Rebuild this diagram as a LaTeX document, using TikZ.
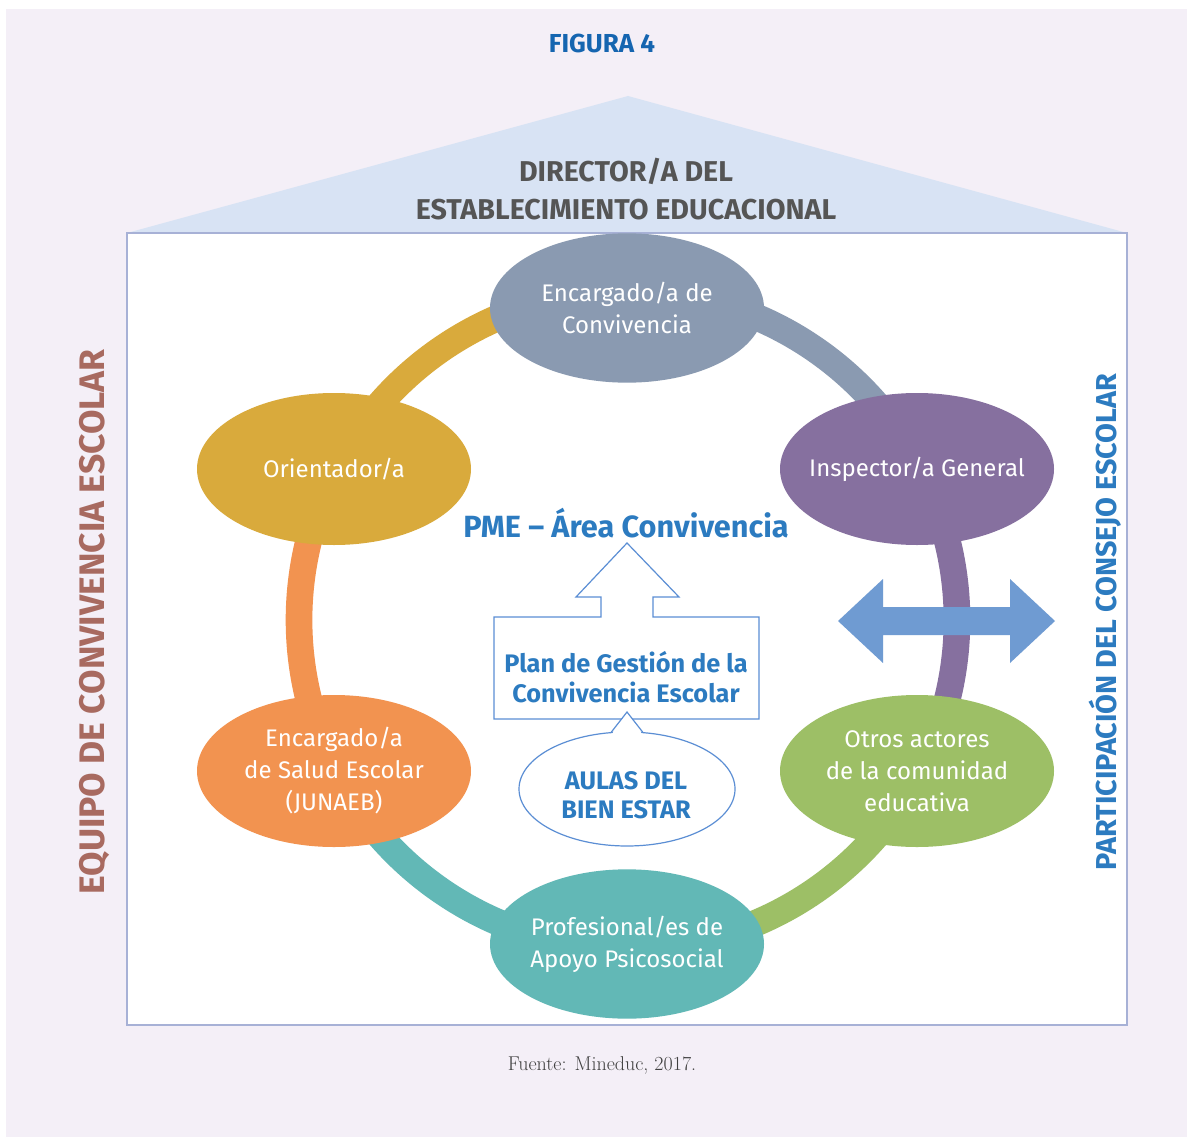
\documentclass[tikz,border=0pt]{standalone}
\usepackage{fontspec}
\setmainfont{Fira Sans}
\newfontfamily\lmserif{Latin Modern Roman}
\usetikzlibrary{shapes.geometric}
\definecolor{lav}{HTML}{F4EFF7}
\definecolor{roof}{HTML}{D8E3F4}
\definecolor{boxline}{HTML}{A7B1D6}
\definecolor{cgold}{HTML}{D9AA3C}
\definecolor{cgray}{HTML}{8A9AB1}
\definecolor{cpurple}{HTML}{86709F}
\definecolor{cgreen}{HTML}{9DBF66}
\definecolor{cteal}{HTML}{62B8B6}
\definecolor{corange}{HTML}{F29350}
\definecolor{tblue}{HTML}{2C7BC0}
\definecolor{figblue}{HTML}{1565B0}
\definecolor{oblue}{HTML}{5B8ED4}
\definecolor{arrblue}{HTML}{6F9BD2}
\definecolor{tgray}{HTML}{555555}
\definecolor{tbrown}{HTML}{A86A60}
\tikzset{
  ell/.style={ellipse, inner sep=0pt, minimum width=205.5pt, minimum height=114pt},
  etext/.style={text=white, align=center, font=\fontsize{18}{24}\selectfont},
  ringseg/.style={line width=20pt},
  btext/.style={text=tblue, align=center, font=\bfseries\fontsize{19}{22}\selectfont},
}
\begin{document}
\begin{tikzpicture}[x=0.75pt,y=-0.75pt]
\useasboundingbox (0,0) rectangle (1187,1137);
\fill[white] (0,0) rectangle (1187,1137);
\fill[lav] (6,9) rectangle (1187,1137);
% roof
\fill[roof] (127,233) -- (628,96) -- (1127,233) -- cycle;
% house box
\draw[boxline, fill=white, line width=1.2pt] (127,233) rectangle (1127,1025);
% ring
\coordinate (rc) at (628,620);
\draw[ringseg, cgold]   ([shift={(rc)}]207.2:329) arc[start angle=207.2, end angle=270, radius=329];
\draw[ringseg, cgray]   ([shift={(rc)}]270:329) arc[start angle=270, end angle=332.8, radius=329];
\draw[ringseg, cpurple] ([shift={(rc)}]-27.2:329) arc[start angle=-27.2, end angle=27.2, radius=329];
\draw[ringseg, cgreen]  ([shift={(rc)}]27.2:329) arc[start angle=27.2, end angle=90, radius=329];
\draw[ringseg, cteal]   ([shift={(rc)}]90:329) arc[start angle=90, end angle=152.8, radius=329];
\draw[ringseg, corange] ([shift={(rc)}]152.8:329) arc[start angle=152.8, end angle=207.2, radius=329];
% ellipses
\node[ell, fill=cgray, minimum height=112pt] (top) at (627,308) {};
\node[etext] at (top) {Encargado/a de\\Convivencia};
\node[ell, fill=cgold] (orient) at (334,469) {};
\node[etext] at (orient) {Orientador/a};
\node[ell, fill=cpurple] (insp) at (917,469) {};
\node[etext] at (insp) {Inspector/a General};
\node[ell, fill=corange] (salud) at (334,771) {};
\node[etext] at (salud) {Encargado/a\\de Salud Escolar\\(JUNAEB)};
\node[ell, fill=cgreen] (otros) at (917,771) {};
\node[etext] at (otros) {Otros actores\\de la comunidad\\educativa};
\node[ell, fill=cteal, minimum height=112pt] (prof) at (627,944) {};
\node[etext] at (prof) {Profesional/es de\\Apoyo Psicosocial};
% double arrow
\fill[arrblue] (838,621) -- (883,579) -- (883,607) -- (1010,607) -- (1010,579) -- (1055,621)
  -- (1010,663) -- (1010,635) -- (883,635) -- (883,663) -- cycle;
% PME
\node[text=tblue, font=\bfseries\fontsize{23}{26}\selectfont] (pme) at (626,523) {PME – Área Convivencia};
% up arrow box
\draw[oblue, fill=white, line width=0.9pt] (494,617) -- (601,617) -- (601,597) -- (576,597) -- (627,543)
  -- (679,597) -- (653,597) -- (653,617) -- (759,617) -- (759,719) -- (494,719) -- cycle;
\node[btext] (plan) at (626,677) {Plan de Gestión de la\\Convivencia Escolar};
% bubble
\draw[oblue, fill=white, line width=0.9pt] (627,789) ellipse[x radius=108, y radius=57];
\fill[white] (610,737) -- (627,712) -- (644,737) -- cycle;
\draw[oblue, line width=0.9pt] (611,732.5) -- (627,712) -- (643,732.5);
\node[btext] (aulas) at (626,795) {AULAS DEL\\BIEN ESTAR};
% titles
\node[text=figblue, font=\bfseries\fontsize{19.5}{22}\selectfont] (fig) at (602,43) {FIGURA 4};
\node[text=tgray, align=center, font=\bfseries\fontsize{21.5}{28}\selectfont] (dir) at (626,189)
  {DIRECTOR/A DEL\\ESTABLECIMIENTO EDUCACIONAL};
\node[text=tbrown, rotate=90, font=\bfseries\fontsize{26.6}{28}\selectfont] (equipo) at (95,622)
  {EQUIPO DE CONVIVENCIA ESCOLAR};
\node[text=tblue, rotate=90, font=\bfseries\fontsize{21.6}{24}\selectfont] (consejo) at (1105,622)
  {PARTICIPACIÓN DEL CONSEJO ESCOLAR};
\node[text=black!75, font=\lmserif\fontsize{15}{17}\selectfont] (fuente) at (602,1065) {Fuente: Mineduc, 2017.};
\end{tikzpicture}
\end{document}
